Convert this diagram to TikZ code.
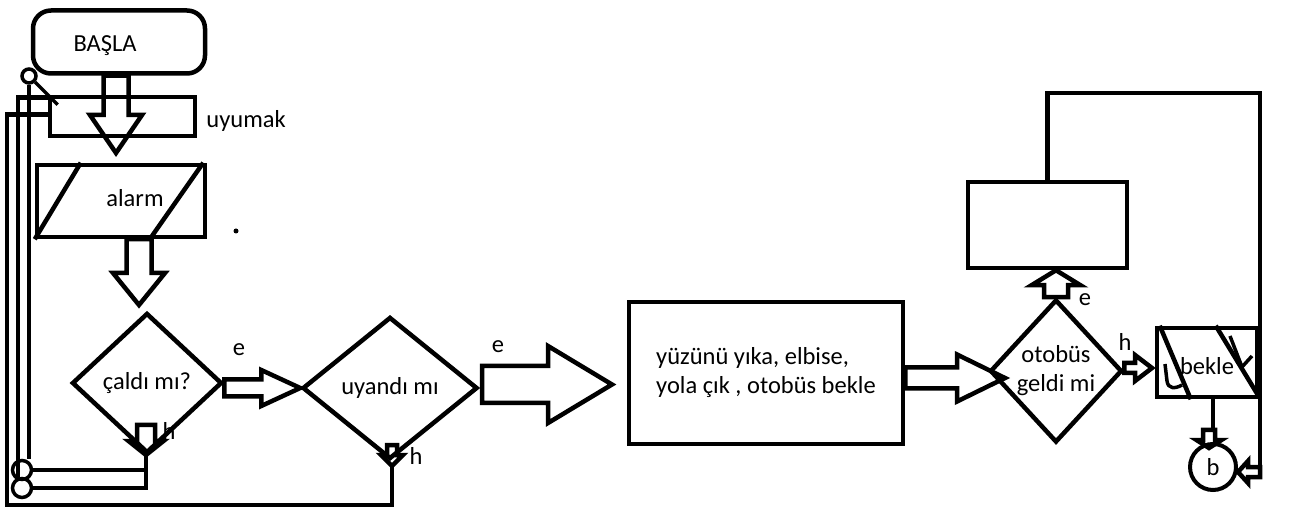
\documentclass[tikz,border=0pt]{standalone}
\usepackage{fontspec}
\setmainfont{Carlito}
\usetikzlibrary{shapes,calc,positioning}

\tikzset{
  box/.style={draw, line width=4.5pt, inner sep=0pt},
  dec/.style={diamond, draw, line width=4.5pt, inner sep=0pt, align=center},
  flow/.style={draw, line width=4.5pt, line join=miter},
  wire/.style={line width=4.5pt},
  joint/.style={circle, draw, line width=3.5pt, inner sep=0pt},
  lbl/.style={inner sep=0pt}
}

% hollow block arrow: from, tip, half shaft, half head, head length
\newcommand{\blockarrow}[5]{%
  \coordinate (ba-s) at (#1);
  \coordinate (ba-e) at (#2);
  \coordinate (ba-h) at ($(ba-e)!#5!(ba-s)$);
  \draw[flow] ($(ba-s)!#3!90:(ba-e)$) -- ($(ba-h)!#3!90:(ba-e)$)
    -- ($(ba-h)!#4!90:(ba-e)$) -- (ba-e) -- ($(ba-h)!#4!-90:(ba-e)$)
    -- ($(ba-h)!#3!-90:(ba-e)$) -- ($(ba-s)!#3!-90:(ba-e)$) -- cycle;}

\begin{document}
\begin{tikzpicture}[x=1pt, y=-1pt, font=\fontsize{24.5}{29}\selectfont]
\useasboundingbox (0,0) rectangle (1296,518);

% left column
\node[box, rounded corners=18pt, minimum width=172, minimum height=63,
  label={[lbl, xshift=-14pt, yshift=-4pt]center:BAŞLA}] (basla) at (119,42) {};
\node[box, minimum width=145, minimum height=39] (uyumak) at (122.5,116.5) {};
\node[lbl, right=9pt of uyumak, yshift=-4pt] (uyumak-t) {uyumak};
\node[box, minimum width=168, minimum height=72,
  label={[lbl, xshift=14pt, yshift=3pt]center:alarm}] (alarm) at (121,201) {};
\draw[wire] (alarm.south west) -- ([xshift=46pt]alarm.north west);
\draw[wire] ([xshift=115pt]alarm.south west) -- ([xshift=-4pt]alarm.north east);
\fill (236,231) circle (2.5);

\node[dec, minimum width=150, minimum height=140] (caldi) at (147,383) {çaldı mı?};
\node[dec, minimum width=175, minimum height=142] (uyandi) at (390,388) {uyandı mı};

% middle and right
\node[box, minimum width=274, minimum height=142, align=left] (yuz) at (766,373)
  {yüzünü yıka, elbise,\\yola çık , otobüs bekle};
\node[dec, minimum width=132, minimum height=143,
  label={[lbl, align=center]center:{otobüs\\geldi mi}}] (otobus) at (1056,371) {};
\node[box, minimum width=159, minimum height=86] (sonraki) at (1047.5,225) {};
\node[box, minimum width=100, minimum height=69,
  label={[lbl, yshift=-4pt]center:bekle}] (bekle) at (1207,362.5) {};
\draw[wire] ([xshift=5pt]bekle.north west) -- ([xshift=36pt]bekle.south west);
\draw[wire] ([xshift=61pt]bekle.north west) -- ([yshift=2pt]bekle.south east);
\draw[line width=3.5pt] (1165,364) -- (1167,381) .. controls (1168,389) and (1175,389) .. (1182,385);
\draw[line width=3.5pt] (1230,336) -- (1242,367) -- (1252,356);
\node[joint, line width=4pt, minimum size=46] (b) at (1213,467) {b};

% joints on the left
\node[joint, minimum size=14] (j0) at (29,76) {};
\node[joint, minimum size=19] (j1) at (22,470) {};
\node[joint, minimum size=19] (j2) at (22,488) {};

% flow arrows
\coordinate (ch) at (146,455);
\coordinate (uh) at (392,466);
\blockarrow{[xshift=-3pt]basla.south}{116,153}{12.5pt}{26pt}{38pt}
\blockarrow{[xshift=18pt]alarm.south}{139,305}{12.5pt}{26pt}{32pt}
\blockarrow{[yshift=-5pt]caldi.east}{uyandi.west}{8.5pt}{18pt}{39pt}
\blockarrow{482,384.5}{612,384.5}{18.5pt}{38.5pt}{64pt}
\blockarrow{[yshift=-5pt]yuz.east}{1005,378}{10.5pt}{23.5pt}{48pt}
\blockarrow{otobus.north}{otobus.north |- sonraki.south}{12pt}{24.5pt}{15pt}
\blockarrow{[yshift=3pt]otobus.east}{1152,368}{5pt}{13pt}{17pt}
\blockarrow{1209,430}{1209,448}{6pt}{12.5pt}{8pt}
\blockarrow{1260,472}{[yshift=-5pt]b.east}{5pt}{11pt}{10pt}
\blockarrow{146,425}{ch}{9pt}{17.5pt}{14pt}
\blockarrow{392,445}{uh}{5pt}{11pt}{11pt}

% return lines
\draw[wire, line width=3.5pt] (j0.south east) -- ([xshift=10pt,yshift=-10pt]uyumak.north west);
\draw[wire] (j0.south) -- (j0.south |- j1.north);
\draw[wire] ([yshift=-3pt]uyumak.north west) -| ([xshift=-4pt]j2.north);
\draw[wire] (uh) |- (7,505) |- ([yshift=-20pt]uyumak.north west);
\draw[wire] (ch) |- (j1.east);
\draw[wire] (ch) |- (j2.east);
\draw[wire] (sonraki.north) |- (1260,93) -- (1260,472);
\draw[wire] ([xshift=6pt]bekle.south) -- ++(0,33);

% branch labels
\node[lbl] (e1) at (239,350) {e};
\node[lbl] (h1) at (169,431) {h};
\node[lbl] (e2) at (498,347) {e};
\node[lbl] (h2) at (416,456) {h};
\node[lbl] (e3) at (1085,300) {e};
\node[lbl] (h3) at (1125,342) {h};
\end{tikzpicture}
\end{document}
